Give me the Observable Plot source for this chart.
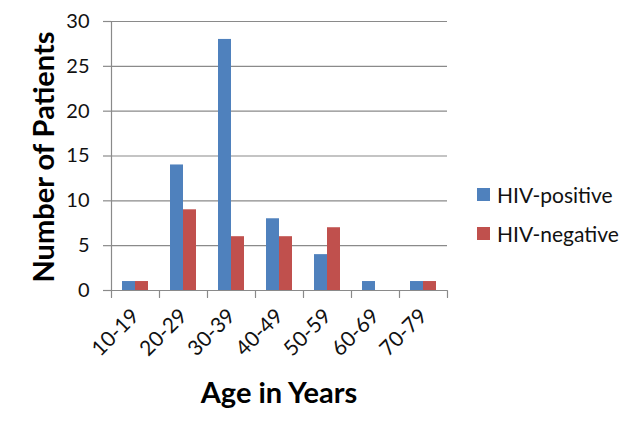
<!DOCTYPE html>
<html><head><meta charset="utf-8">
<script src="https://cdn.jsdelivr.net/npm/d3@7"></script>
<script src="https://cdn.jsdelivr.net/npm/@observablehq/plot@0.6"></script>
<style>
body{margin:0;background:#fff;font-family:Lato,"Open Sans",sans-serif;}
#wrap{position:relative;width:640px;height:427px;overflow:hidden;}
#wrap svg text{font-size:20px;fill:#111;}
#wrap svg g[aria-label="fx-axis tick label"] text{font-size:21px;}
.lab{position:absolute;font-weight:bold;color:#000;white-space:nowrap;}
.leg{position:absolute;font-size:21px;color:#111;white-space:nowrap;}
.sw{position:absolute;width:13px;height:13px;}
</style>
</head><body><div id="wrap"></div>
<script>
const ageGroups = ["10-19","20-29","30-39","40-49","50-59","60-69","70-79"];
const seriesNames = ["HIV-positive","HIV-negative"];
const hivPositive = [1,14,28,8,4,1,1];
const hivNegative = [1,9,6,6,7,0,1];
const yTicks = [0,5,10,15,20,25,30];
const seriesColors = ["#4F81BD","#C0504D"];
const xTitle = "Age in Years";
const yTitle = "Number of Patients";

const data = ageGroups.flatMap((a,i)=>[
  {age:a, series:seriesNames[0], count:hivPositive[i]},
  {age:a, series:seriesNames[1], count:hivNegative[i]}
]);
const gray = "#8a8a8a";

const chart = Plot.plot({
  width:640, height:427,
  marginLeft:109, marginRight:191, marginTop:21, marginBottom:137,
  style:{fontFamily:"Lato, 'Open Sans', sans-serif", fontSize:"20px", background:"white", color:"#111"},
  fx:{domain:ageGroups, padding:0, label:null},
  x:{domain:seriesNames, paddingInner:0, paddingOuter:0.8, axis:null},
  y:{domain:[0,30], label:null},
  color:{domain:seriesNames, range:seriesColors},
  marks:[
    Plot.ruleY(yTicks, {stroke:gray, strokeWidth:1.2}),
    Plot.barY(data, {fx:"age", x:"series", y:"count", fill:"series"}),
    Plot.axisY({ticks:yTicks, tickSize:8, tickPadding:14, stroke:gray, strokeWidth:1.2, fontSize:20, label:null}),
    Plot.axisFx({anchor:"bottom", tickSize:0, tickPadding:22, tickRotate:-45, fontSize:21, label:null}),
    Plot.vector([ageGroups[0]], {fx:d=>d, frameAnchor:"bottom-left", anchor:"start", rotate:0, length:269, r:0, stroke:gray, strokeWidth:1.2}),
    Plot.vector(ageGroups, {fx:d=>d, frameAnchor:"bottom-left", anchor:"start", rotate:180, length:7, r:0, stroke:gray, strokeWidth:1.2}),
    Plot.vector([ageGroups[ageGroups.length-1]], {fx:d=>d, frameAnchor:"bottom-right", anchor:"start", rotate:180, length:7, r:0, stroke:gray, strokeWidth:1.2})
  ]
});
const wrap = document.getElementById("wrap");
wrap.appendChild(chart);

// axis titles
const yl = document.createElement("div");
yl.className="lab"; yl.textContent=yTitle; yl.style.fontSize="29px";
yl.style.left="42px"; yl.style.top="157px";
yl.style.transform="translate(-50%,-50%) rotate(-90deg)";
wrap.appendChild(yl);
const xl = document.createElement("div");
xl.className="lab"; xl.textContent=xTitle; xl.style.fontSize="29px";
xl.style.left="279px"; xl.style.top="391px";
xl.style.transform="translate(-50%,-50%)";
wrap.appendChild(xl);

// legend
const legTop = [188, 227];
seriesNames.forEach((s,i)=>{
  const sw=document.createElement("div"); sw.className="sw";
  sw.style.background=seriesColors[i]; sw.style.left="477px"; sw.style.top=legTop[i]+"px";
  wrap.appendChild(sw);
  const t=document.createElement("div"); t.className="leg"; t.textContent=s;
  t.style.left="497px"; t.style.top=(legTop[i]+6)+"px"; t.style.transform="translateY(-50%)";
  wrap.appendChild(t);
});
</script>
</body></html>
